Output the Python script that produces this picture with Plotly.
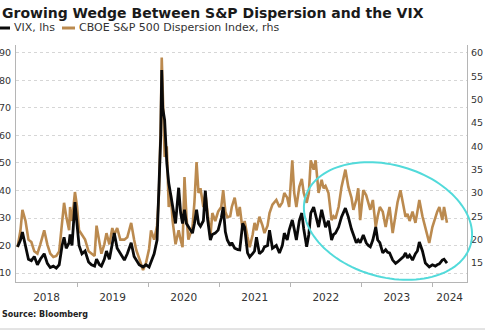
import numpy as np
import plotly.graph_objects as go

# ---------------- data ----------------
dates = [
    "2018-03-01", "2018-03-16", "2018-03-26", "2018-04-11", "2018-04-26", "2018-05-11",
    "2018-05-26", "2018-06-11", "2018-06-26", "2018-07-16", "2018-08-01", "2018-08-16",
    "2018-09-01", "2018-09-16", "2018-10-01", "2018-10-16", "2018-10-26", "2018-11-06",
    "2018-11-21", "2018-11-26", "2018-12-06", "2018-12-21", "2019-01-01", "2019-01-11",
    "2019-01-26", "2019-02-11", "2019-03-01", "2019-03-16", "2019-04-01", "2019-04-11",
    "2019-04-26", "2019-05-06", "2019-05-21", "2019-06-01", "2019-06-16", "2019-07-01",
    "2019-07-11", "2019-07-26", "2019-08-11", "2019-09-01", "2019-09-16", "2019-10-06",
    "2019-10-21", "2019-11-01", "2019-11-16", "2019-12-06", "2019-12-21", "2020-01-06",
    "2020-01-16", "2020-02-01", "2020-02-16", "2020-02-26", "2020-03-06", "2020-03-11",
    "2020-03-16", "2020-03-26", "2020-04-06", "2020-04-16", "2020-04-26", "2020-05-06",
    "2020-05-21", "2020-06-06", "2020-06-16", "2020-06-26", "2020-07-06", "2020-07-16",
    "2020-07-26", "2020-08-16", "2020-08-26", "2020-09-06", "2020-09-16", "2020-09-26",
    "2020-10-11", "2020-10-21", "2020-11-01", "2020-11-16", "2020-11-26", "2020-12-11",
    "2020-12-26", "2021-01-11", "2021-01-21", "2021-02-01", "2021-02-11", "2021-02-26",
    "2021-03-06", "2021-03-21", "2021-04-06", "2021-04-16", "2021-05-01", "2021-05-11",
    "2021-05-26", "2021-06-06", "2021-06-21", "2021-07-01", "2021-07-11", "2021-07-26",
    "2021-08-11", "2021-08-21", "2021-09-06", "2021-09-16", "2021-10-01", "2021-10-21",
    "2021-11-06", "2021-11-21", "2021-12-01", "2021-12-16", "2021-12-26", "2022-01-11",
    "2022-01-21", "2022-02-01", "2022-02-16", "2022-03-01", "2022-03-11", "2022-03-26",
    "2022-04-06", "2022-04-16", "2022-05-01", "2022-05-11", "2022-05-26", "2022-06-11",
    "2022-06-21", "2022-07-01", "2022-07-16", "2022-08-01", "2022-08-11", "2022-08-21",
    "2022-09-06", "2022-09-21", "2022-10-11", "2022-10-26", "2022-11-11", "2022-11-21",
    "2022-12-06", "2022-12-16", "2022-12-26", "2023-01-11", "2023-01-26", "2023-02-06",
    "2023-02-16", "2023-03-01", "2023-03-16", "2023-03-26", "2023-04-06", "2023-04-21",
    "2023-05-06", "2023-05-16", "2023-05-26", "2023-06-11", "2023-06-26", "2023-07-06",
    "2023-07-21", "2023-08-06", "2023-08-16", "2023-08-26", "2023-09-06", "2023-09-21",
    "2023-10-06", "2023-10-16", "2023-10-26", "2023-11-11", "2023-11-26", "2023-12-16",
    "2024-01-01", "2024-01-16", "2024-01-26", "2024-02-06", "2024-02-21", "2024-03-01",
    "2024-03-16",
]

vix = [
    19.5, 22.0, 24.9, 20.0, 15.0, 14.5, 16.0, 13.0, 15.0, 17.0, 13.5, 12.0,
    12.5, 11.8, 13.0, 20.0, 23.0, 19.0, 21.0, 24.0, 20.0, 35.8, 28.0, 20.0,
    17.0, 18.0, 14.0, 13.0, 12.5, 15.0, 13.0, 12.5, 15.0, 18.0, 15.0, 20.0,
    24.5, 19.0, 17.0, 14.7, 17.0, 21.0, 16.0, 14.7, 13.0, 12.2, 13.0, 12.2,
    14.0, 17.0, 22.0, 40.0, 60.0, 83.8, 70.0, 65.6, 50.0, 42.7, 38.0, 34.0,
    28.0, 41.0, 32.0, 28.0, 33.0, 28.0, 26.7, 24.5, 28.0, 33.0, 28.0, 27.0,
    29.0, 40.0, 30.0, 22.0, 24.0, 24.5, 25.6, 30.0, 34.0, 25.0, 22.0, 20.0,
    21.0, 19.0, 18.5, 18.4, 28.0, 26.7, 17.3, 15.8, 17.0, 18.0, 23.0, 17.0,
    18.0, 19.5, 20.0, 25.6, 19.0, 20.0, 17.3, 20.0, 24.5, 22.0, 25.6, 29.3,
    26.0, 22.0, 29.0, 31.8, 26.0, 19.5, 24.0, 31.8, 34.0, 31.0, 26.7, 33.0,
    30.0, 26.7, 29.0, 22.0, 24.0, 24.5, 26.7, 30.4, 33.6, 30.4, 26.0, 23.8,
    21.0, 22.0, 21.0, 23.8, 21.0, 20.0, 19.5, 22.0, 26.7, 22.0, 21.0, 17.3,
    18.5, 17.5, 17.3, 14.7, 13.5, 14.0, 15.0, 16.0, 17.3, 15.5, 16.5, 14.7,
    17.0, 18.0, 21.3, 18.0, 13.6, 12.2, 13.0, 12.5, 13.0, 13.3, 14.7, 15.0,
    13.6,
]

dispersion = [
    18.4, 22.0, 26.4, 24.0, 20.0, 19.5, 17.5, 17.0, 19.0, 22.0, 19.0, 17.0,
    16.3, 16.5, 17.5, 23.0, 27.9, 25.0, 22.0, 27.0, 24.0, 30.2, 27.0, 22.0,
    21.0, 20.0, 17.5, 17.0, 16.5, 23.0, 19.0, 17.0, 19.0, 21.4, 19.0, 22.5,
    21.0, 22.5, 20.0, 20.0, 20.5, 23.6, 20.0, 17.8, 16.0, 13.5, 15.0, 18.0,
    22.0, 20.0, 23.0, 30.0, 45.0, 59.0, 52.0, 37.7, 40.0, 27.0, 30.0, 24.0,
    19.0, 22.0, 20.0, 18.4, 33.4, 25.0, 20.0, 22.7, 28.0, 36.6, 30.0, 31.0,
    27.0, 30.0, 26.0, 20.6, 25.7, 24.0, 26.0, 27.0, 30.6, 26.0, 24.8, 25.0,
    27.0, 29.0, 25.0, 27.0, 22.0, 24.0, 20.6, 18.4, 21.0, 23.6, 22.0, 24.9,
    23.0, 21.4, 23.0, 25.7, 27.5, 28.5, 27.0, 28.0, 30.0, 29.0, 27.0, 37.0,
    30.0, 27.0, 31.3, 33.0, 30.0, 27.9, 30.0, 37.0, 35.0, 37.0, 30.0, 32.8,
    31.0, 31.5, 30.0, 24.2, 25.0, 24.5, 27.0, 31.3, 35.0, 31.3, 29.0, 26.4,
    28.5, 31.0, 24.2, 30.6, 29.5, 28.0, 26.4, 28.5, 22.7, 25.0, 27.0, 26.0,
    22.7, 25.0, 27.0, 21.4, 26.0, 28.0, 30.6, 27.0, 24.9, 25.5, 24.0, 26.0,
    23.6, 26.0, 28.5, 25.0, 22.7, 19.3, 22.7, 25.0, 26.0, 27.0, 24.2, 27.0,
    23.6,
]

year_labels = ["2018", "2019", "2020", "2021", "2022", "2023", "2024"]
left_ticks = [10, 20, 30, 40, 50, 60, 70, 80, 90]
right_ticks = [15, 20, 25, 30, 35, 40, 45, 50, 55, 60]

title_text = "Growing Wedge Between S&P Dispersion and the VIX"
vix_name = "VIX, lhs"
disp_name = "CBOE S&P 500 Dispersion Index, rhs"
source_text = "Source: Bloomberg"

# ---------------- layout geometry ----------------
W, H = 485, 330
L, R, T, B = 16, 467, 45, 282          # plot area in pixels
X_RANGE = ["2018-02-21", "2024-06-27"]

def px(X):
    return (X - L) / (R - L)

def py(Y):
    return (B - Y) / (B - T)

BLACK = "#0a0a0a"
TAN = "#bb8a4f"
CYAN = "#52dada"
FONT = "DejaVu Sans"

# year label positions: centre of each year's visible part
x0 = np.datetime64(X_RANGE[0])
x1 = np.datetime64(X_RANGE[1])
label_vals = []
for y in year_labels:
    s = max(np.datetime64(f"{y}-01-01"), x0)
    e = min(np.datetime64(f"{int(y) + 1}-01-01"), x1)
    label_vals.append(str(s + (e - s) / 2))
boundaries = [f"{y}-01-01" for y in year_labels[1:]]

fig = go.Figure()
# tan series on base axis (drawn first), black on overlaying axis (drawn on top)
fig.add_trace(go.Scatter(x=dates, y=dispersion, name=disp_name, mode="lines",
                         line=dict(color=TAN, width=2.6), yaxis="y"))
fig.add_trace(go.Scatter(x=dates, y=vix, name=vix_name, mode="lines",
                         line=dict(color=BLACK, width=2.8), yaxis="y2"))

axis_font = dict(family=FONT, size=10.5, color="#333333")
yfont = dict(family=FONT, size=9.5, color="#333333")

fig.update_layout(
    width=W, height=H,
    margin=dict(l=L, r=W - R, t=T, b=H - B, pad=0, autoexpand=False),
    paper_bgcolor="white", plot_bgcolor="white",
    showlegend=False,
    xaxis=dict(
        type="date", range=X_RANGE, automargin=False,
        tickmode="array", tickvals=label_vals, ticktext=year_labels,
        ticks="", showgrid=False,
        showline=True, linecolor="#b5b5b5", linewidth=1,
        tickfont=axis_font, ticklabelstandoff=5,
        minor=dict(tickmode="array", tickvals=boundaries, ticks="outside",
                   ticklen=4, tickcolor="#b5b5b5", showgrid=False),
    ),
    yaxis=dict(  # right axis: dispersion
        side="right", range=[10.93, 61.7], automargin=False,
        tickmode="array", tickvals=right_ticks,
        showgrid=False, zeroline=False,
        showline=True, linecolor="#b5b5b5", linewidth=1,
        ticks="", tickfont=yfont, ticklabelstandoff=1,
    ),
    yaxis2=dict(  # left axis: VIX
        side="left", overlaying="y", range=[6.73, 92.9], automargin=False,
        tickmode="array", tickvals=left_ticks,
        showgrid=True, gridcolor="#d6d6d6", griddash="dot", gridwidth=1,
        zeroline=False,
        showline=True, linecolor="#b5b5b5", linewidth=1,
        ticks="", tickfont=yfont, ticklabelstandoff=2,
    ),
)

# cyan hand-drawn style ellipse (annotation, pixel geometry -> paper)
cx, cy, a, b, th = 388, 221, 86, 56, np.deg2rad(16)
t = np.linspace(0, 2 * np.pi, 121)
ex = cx + a * np.cos(t) * np.cos(th) - b * np.sin(t) * np.sin(th)
ey = cy + a * np.cos(t) * np.sin(th) + b * np.sin(t) * np.cos(th)
path = "M " + " L ".join(f"{px(X):.4f},{py(Y):.4f}" for X, Y in zip(ex, ey)) + " Z"

shapes = [
    dict(type="path", path=path, xref="paper", yref="paper",
         line=dict(color=CYAN, width=2)),
    # legend keys
    dict(type="line", xref="paper", yref="paper", x0=px(0), x1=px(10),
         y0=py(28), y1=py(28), line=dict(color=BLACK, width=3)),
    dict(type="line", xref="paper", yref="paper", x0=px(62), x1=px(75),
         y0=py(28), y1=py(28), line=dict(color=TAN, width=3)),
    # bottom rule
    dict(type="line", xref="paper", yref="paper", x0=px(0), x1=px(W),
         y0=py(329), y1=py(329), line=dict(color="#c8c8c8", width=1)),
]
fig.update_layout(shapes=shapes)

annotations = [
    dict(text=f"<b>{title_text}</b>", x=px(0), y=py(13), xref="paper", yref="paper",
         xanchor="left", yanchor="middle", showarrow=False,
         font=dict(family=FONT, size=14, color="#1a1a1a")),
    dict(text=vix_name, x=px(12), y=py(28), xref="paper", yref="paper",
         xanchor="left", yanchor="middle", showarrow=False,
         font=dict(family=FONT, size=11, color="#333333")),
    dict(text=disp_name, x=px(77), y=py(28), xref="paper", yref="paper",
         xanchor="left", yanchor="middle", showarrow=False,
         font=dict(family=FONT, size=11, color="#333333")),
    dict(text=f"<b>{source_text}</b>", x=px(0), y=py(314), xref="paper", yref="paper",
         xanchor="left", yanchor="middle", showarrow=False,
         font=dict(family=FONT, size=8, color="#222222")),
]
fig.update_layout(annotations=annotations)

fig.write_html("out.html")
